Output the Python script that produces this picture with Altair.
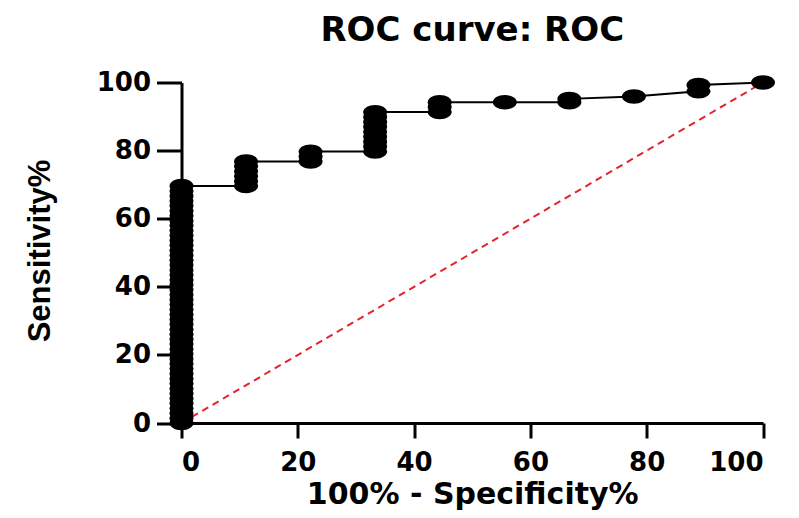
import altair as alt
import pandas as pd

# ROC points (100% - Specificity%, Sensitivity%)
fpr = [0]*49 + [11.1]*6 + [22.2]*3 + [33.3]*9 + [44.4]*3 + [55.6] + [66.7]*2 + [77.8] + [88.9]*2 + [100]
sens = [
    0, 1.4, 2.9, 4.3, 5.8, 7.2, 8.7, 10.1, 11.6, 13.0, 14.5, 15.9, 17.4, 18.8, 20.3, 21.7,
    23.2, 24.6, 26.1, 27.5, 29.0, 30.4, 31.9, 33.3, 34.8, 36.2, 37.7, 39.1, 40.6, 42.0,
    43.5, 44.9, 46.4, 47.8, 49.3, 50.7, 52.2, 53.6, 55.1, 56.5, 58.0, 59.4, 60.9, 62.3,
    63.8, 65.2, 66.7, 68.1, 69.6,
    69.6, 71.0, 72.5, 73.9, 75.4, 76.8,
    76.8, 78.3, 79.7,
    79.7, 81.2, 82.6, 84.1, 85.5, 87.0, 88.4, 89.9, 91.3,
    91.3, 92.8, 94.2,
    94.2,
    94.2, 95.2,
    95.9,
    97.4, 99.3,
    100,
]
ref_x = [0, 100]
ref_y = [0, 100]

df = pd.DataFrame({"x": fpr, "y": sens, "order": list(range(len(fpr)))})
ref = pd.DataFrame({"x": ref_x, "y": ref_y})

FONT = "DejaVu Sans"
ellipse = ("M-1,0 C-1,-0.3314 -0.5523,-0.6 0,-0.6 C0.5523,-0.6 1,-0.3314 1,0 "
           "C1,0.3314 0.5523,0.6 0,0.6 C-0.5523,0.6 -1,0.3314 -1,0 Z")

xs = alt.Scale(domain=[0, 100], nice=False, zero=False)
ys = alt.Scale(domain=[0, 100], nice=False, zero=False)

xaxis = alt.Axis(values=[0, 20, 40, 60, 80, 100], title="100% - Specificity%",
                 tickSize=15, tickWidth=3, domainWidth=3, domainColor="black", tickColor="black",
                 labelFont=FONT, labelFontSize=26, labelFontWeight="bold", labelColor="black",
                 labelPadding=11, titleFont=FONT, titleFontSize=30, titleFontWeight="bold",
                 titleColor="black", titleBaseline="alphabetic", titleY=80, grid=False)
yaxis = alt.Axis(values=[0, 20, 40, 60, 80, 100], title="Sensitivity%",
                 tickSize=25, tickWidth=3, domainWidth=3, domainColor="black", tickColor="black",
                 labelFont=FONT, labelFontSize=26, labelFontWeight="bold", labelColor="black",
                 labelPadding=6, titleFont="Liberation Sans",
                 titleFontSize=31, titleFontWeight="bold", titleColor="black",
                 titleBaseline="alphabetic", titleX=-132, titleY=168, grid=False)

diag = alt.Chart(ref).mark_line(color="#e3242b", strokeWidth=2, strokeDash=[7, 5], clip=False).encode(
    x=alt.X("x:Q", scale=xs, axis=xaxis),
    y=alt.Y("y:Q", scale=ys, axis=yaxis),
)
line = alt.Chart(df).mark_line(color="black", strokeWidth=2, clip=False).encode(
    x=alt.X("x:Q", scale=xs), y=alt.Y("y:Q", scale=ys), order="order:Q"
)
pts = alt.Chart(df).mark_point(shape=ellipse, size=576, filled=True, color="black",
                               opacity=1, clip=False).encode(
    x=alt.X("x:Q", scale=xs), y=alt.Y("y:Q", scale=ys)
)

chart = alt.layer(diag, line, pts).properties(
    width=581.5, height=340.5,
    title=alt.TitleParams("ROC curve: ROC", font=FONT, fontSize=34, fontWeight="bold",
                          color="black", anchor="middle", offset=22),
    padding={"left": 173.5, "top": 74.5, "right": 20, "bottom": 87},
    autosize=alt.AutoSizeParams(type="none"),
).configure_view(stroke=None)

chart.save("out.html", embed_options={"renderer": "svg", "actions": False})
